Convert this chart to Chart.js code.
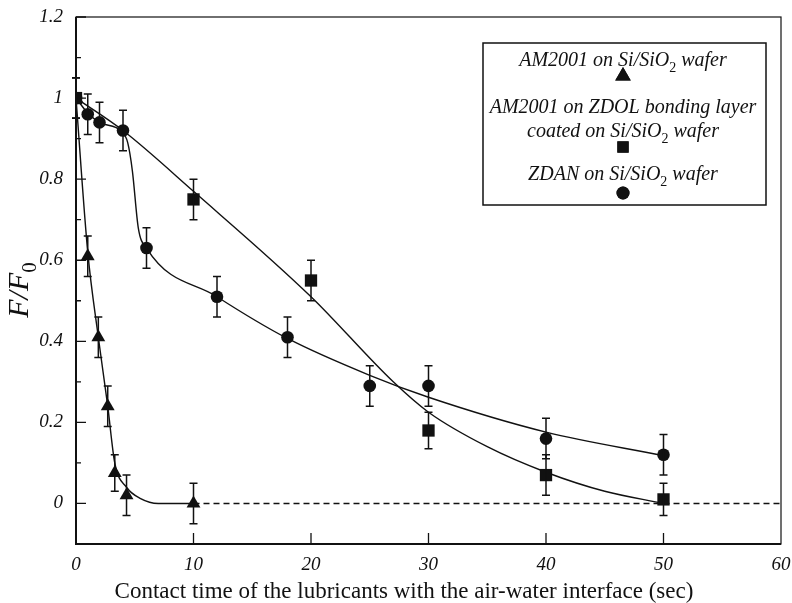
<!DOCTYPE html>
<html>
<head>
<meta charset="utf-8">
<script src="https://cdn.jsdelivr.net/npm/chart.js@4.4.0/dist/chart.umd.min.js"></script>
<style>
    html, body { margin: 0; padding: 0; background: #fff; }
</style>
</head>
<body>
<canvas id="chart" width="792" height="603"></canvas>
<script>
// Measured points: contact time (sec), F/F0 and error half-widths
var triTime = [0, 1, 1.9, 2.7, 3.3, 4.3, 10];
var triRatio = [1, 0.61, 0.41, 0.24, 0.075, 0.02, 0];
var triErr = [0.05, 0.05, 0.05, 0.05, 0.045, 0.05, 0.05];

var sqTime = [0, 10, 20, 30, 40, 50];
var sqRatio = [1, 0.75, 0.55, 0.18, 0.07, 0.01];
var sqErr = [0.05, 0.05, 0.05, 0.045, 0.05, 0.04];

var cirTime = [0, 1, 2, 4, 6, 12, 18, 25, 30, 40, 50];
var cirRatio = [1, 0.96, 0.94, 0.92, 0.63, 0.51, 0.41, 0.29, 0.29, 0.16, 0.12];
var cirErr = [0.05, 0.05, 0.05, 0.05, 0.05, 0.05, 0.05, 0.05, 0.05, 0.05, 0.05];

// Fitted curves through each set
var triFitTime = [0, 1, 1.9, 2.7, 3.3, 4.3, 5.5, 7, 10];
var triFitRatio = [1, 0.62, 0.41, 0.24, 0.1, 0.04, 0.012, 0, 0];

var sqFitTime = [0, 4, 10, 20, 27, 30, 35, 40, 45, 50];
var sqFitRatio = [1, 0.92, 0.77, 0.51, 0.3, 0.225, 0.14, 0.077, 0.03, 0];

var cirFitTime = [0, 1, 2, 3.9, 4.4, 4.8, 5.3, 6, 12, 18, 25, 30, 40, 50];
var cirFitRatio = [1, 0.963, 0.94, 0.917, 0.89, 0.82, 0.68, 0.63, 0.51, 0.407, 0.316, 0.262, 0.176, 0.118];

// Zero baseline past the last triangle
var baseTime = [10, 60];
var baseRatio = [0, 0];

var xTicks = [0, 10, 20, 30, 40, 50, 60];
var yTicks = [0, 0.2, 0.4, 0.6, 0.8, 1, 1.2];
var yMinor = [0.1, 0.3, 0.5, 0.7, 0.9, 1.1];

var ink = '#111';
var serif = "'Liberation Serif', 'Times New Roman', serif";

function pts(xs, ys) {
    return xs.map((x, i) => ({ x: x, y: ys[i] }));
}

function markerSet(label, xs, ys, errs, style, radius) {
    return {
        label: label,
        data: pts(xs, ys),
        errors: errs,
        showLine: false,
        pointStyle: style,
        pointRadius: radius,
        backgroundColor: ink,
        borderColor: ink,
        borderWidth: 0
    };
}

function curveSet(xs, ys, dash) {
    return {
        data: pts(xs, ys),
        showLine: true,
        pointRadius: 0,
        borderColor: ink,
        borderWidth: 1.4,
        borderDash: dash || [],
        cubicInterpolationMode: 'monotone',
        fill: false
    };
}

// Draws a line of text with subscripted pieces, centred on cx
function drawRich(ctx, parts, cx, y, size, italic) {
    var fonts = parts.map(p => (p[1] ? '' : italic) + ' ' + (p[1] ? size * 0.7 : size) + 'px ' + serif);
    var widths = parts.map((p, i) => { ctx.font = fonts[i]; return ctx.measureText(p[0]).width; });
    var total = widths.reduce((a, b) => a + b, 0);
    var x = cx - total / 2;
    ctx.textAlign = 'left';
    ctx.textBaseline = 'alphabetic';
    parts.forEach((p, i) => {
        ctx.font = fonts[i];
        ctx.fillText(p[0], x, p[1] ? y + size * 0.28 : y);
        x += widths[i];
    });
}

var errorBars = {
    id: 'errorBars',
    afterDatasetsDraw(chart) {
        var ctx = chart.ctx, ys = chart.scales.y, xs = chart.scales.x;
        ctx.save();
        ctx.strokeStyle = ink;
        ctx.lineWidth = 1.5;
        chart.data.datasets.forEach(ds => {
            if (!ds.errors) return;
            ds.data.forEach((p, i) => {
                var px = xs.getPixelForValue(p.x);
                var top = ys.getPixelForValue(p.y + ds.errors[i]);
                var bot = ys.getPixelForValue(p.y - ds.errors[i]);
                ctx.beginPath();
                ctx.moveTo(px, top); ctx.lineTo(px, bot);
                ctx.moveTo(px - 4, top); ctx.lineTo(px + 4, top);
                ctx.moveTo(px - 4, bot); ctx.lineTo(px + 4, bot);
                ctx.stroke();
            });
        });
        ctx.restore();
    }
};

var frame = {
    id: 'frame',
    afterDraw(chart) {
        var ctx = chart.ctx, a = chart.chartArea, xs = chart.scales.x, ys = chart.scales.y;
        ctx.save();
        ctx.strokeStyle = ink;
        ctx.lineWidth = 1.2;
        ctx.strokeRect(a.left, a.top, a.right - a.left, a.bottom - a.top);
        ctx.lineWidth = 2;
        ctx.beginPath();
        ctx.moveTo(a.left, a.top); ctx.lineTo(a.left, a.bottom); ctx.lineTo(a.right, a.bottom);
        ctx.stroke();

        // inward ticks
        ctx.lineWidth = 1.3;
        ctx.beginPath();
        xTicks.slice(1, -1).forEach(v => {
            var px = xs.getPixelForValue(v);
            ctx.moveTo(px, a.bottom); ctx.lineTo(px, a.bottom - 11);
        });
        yTicks.forEach(v => {
            var py = ys.getPixelForValue(v);
            ctx.moveTo(a.left, py); ctx.lineTo(a.left + 10, py);
        });
        yMinor.forEach(v => {
            var py = ys.getPixelForValue(v);
            ctx.moveTo(a.left, py); ctx.lineTo(a.left + 5, py);
        });
        ctx.stroke();

        // axis titles
        ctx.fillStyle = ink;
        ctx.font = '23px ' + serif;
        ctx.textAlign = 'center';
        ctx.textBaseline = 'alphabetic';
        ctx.fillText('Contact time of the lubricants with the air-water interface (sec)', 404, 598);

        ctx.save();
        ctx.translate(28, 290);
        ctx.rotate(-Math.PI / 2);
        drawRich(ctx, [['F/F', false], ['0', true]], 0, 0, 30, 'italic');
        ctx.restore();

        // legend box
        ctx.lineWidth = 1.5;
        ctx.strokeRect(483, 43, 283, 162);
        var cx = 623;
        var fs = 20;
        drawRich(ctx, [['AM2001 on Si/SiO', false], ['2', true], [' wafer', false]], cx, 66, fs, 'italic');
        drawRich(ctx, [['AM2001 on ZDOL bonding layer', false]], cx, 113, fs, 'italic');
        drawRich(ctx, [['coated on Si/SiO', false], ['2', true], [' wafer', false]], cx, 137, fs, 'italic');
        drawRich(ctx, [['ZDAN on Si/SiO', false], ['2', true], [' wafer', false]], cx, 180, fs, 'italic');
        Chart.helpers.drawPoint(ctx, { pointStyle: 'triangle', radius: 9, borderWidth: 0 }, cx, 76);
        ctx.fill();
        Chart.helpers.drawPoint(ctx, { pointStyle: 'rect', radius: 8, borderWidth: 0 }, cx, 147);
        ctx.fill();
        Chart.helpers.drawPoint(ctx, { pointStyle: 'circle', radius: 6.5, borderWidth: 0 }, cx, 193);
        ctx.fill();
        ctx.restore();
    }
};

var tickFont = { family: serif, style: 'italic', size: 19 };

new Chart(document.getElementById('chart'), {
    type: 'scatter',
    data: {
        datasets: [
            markerSet('AM2001 on ZDOL bonding layer coated on Si/SiO2 wafer', sqTime, sqRatio, sqErr, 'rect', 8.7),
            markerSet('ZDAN on Si/SiO2 wafer', cirTime, cirRatio, cirErr, 'circle', 6.3),
            markerSet('AM2001 on Si/SiO2 wafer', triTime, triRatio, triErr, 'triangle', 8),
            curveSet(triFitTime, triFitRatio),
            curveSet(sqFitTime, sqFitRatio),
            curveSet(cirFitTime, cirFitRatio),
            curveSet(baseTime, baseRatio, [6, 4])
        ]
    },
    options: {
        responsive: false,
        animation: false,
        layout: { padding: { top: 17, right: 11, left: 0, bottom: 0 } },
        plugins: { legend: { display: false }, tooltip: { enabled: false } },
        scales: {
            x: {
                type: 'linear', min: 0, max: 60,
                afterBuildTicks: s => { s.ticks = xTicks.map(v => ({ value: v })); },
                afterFit: s => { s.height = 59; s.paddingLeft = 0; s.paddingRight = 0; },
                grid: { display: false, drawTicks: false },
                border: { display: false },
                ticks: { padding: 10, color: ink, font: tickFont, maxRotation: 0 }
            },
            y: {
                type: 'linear', min: -0.1, max: 1.2,
                afterBuildTicks: s => { s.ticks = yTicks.map(v => ({ value: v })); },
                afterFit: s => { s.width = 76; s.paddingTop = 0; s.paddingBottom = 0; },
                grid: { display: false, drawTicks: false },
                border: { display: false },
                ticks: { padding: 13, color: ink, font: tickFont, callback: v => String(Number(v.toFixed(1))) }
            }
        }
    },
    plugins: [errorBars, frame]
});
</script>
</body>
</html>
